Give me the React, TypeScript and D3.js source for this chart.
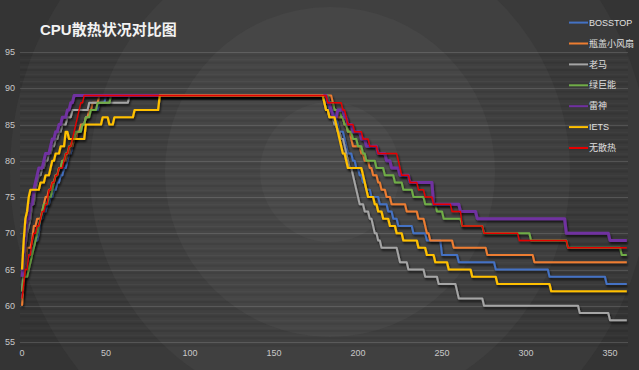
import React, { useEffect, useRef } from 'react';
import * as d3 from 'd3';

type Pt = [number, number];

// change points: [seconds, temperature] — value holds until the next point
const bosstop: Pt[] = [
  [0, 61], [1, 63], [2, 65], [3, 66], [4, 67], [6, 68], [8, 69], [10, 70], [11, 72], [13, 73], [15, 74], [17, 75],
  [19, 76], [21, 77], [23, 78], [25, 79], [27, 80], [28, 81], [30, 82], [31, 83], [33, 84], [36, 85], [38, 86],
  [40, 87], [46, 88], [50, 89],
  [181, 88], [183, 87], [186, 86], [188, 85], [189, 84], [192, 83], [193, 82], [194, 81], [197, 80], [199, 79],
  [201, 78], [203, 77], [205, 76], [208, 75], [213, 74], [218, 73], [221, 72], [224, 71], [233, 70], [241, 69],
  [250, 67], [260, 66], [282, 65], [314, 64], [348, 63],
];

const pinggai: Pt[] = [
  [0, 60], [1, 63], [2, 66], [3, 68], [6, 69], [7, 71], [9, 72], [12, 73], [13, 74], [14, 75], [16, 76], [18, 77],
  [20, 78], [22, 79], [24, 80], [27, 81], [29, 82], [31, 83], [33, 84], [35, 85], [38, 86], [40, 87], [42, 88],
  [46, 89],
  [185, 88], [186, 87], [188, 86], [192, 85], [194, 84], [196, 83], [197, 82], [202, 81], [204, 80], [207, 79],
  [209, 78], [212, 77], [214, 76], [217, 75], [220, 74], [229, 73], [236, 72], [240, 71], [241, 70], [243, 69],
  [257, 68], [277, 67], [305, 66],
];

const laoma: Pt[] = [
  [0, 62], [1, 65], [2, 68], [3, 70], [4, 71], [5, 72], [6, 74], [8, 76], [9, 77], [10, 78], [12, 79], [14, 80],
  [16, 81], [18, 82], [20, 83], [22, 84], [24, 85], [27, 86], [30, 87], [40, 88], [64, 89],
  [180, 88], [181, 87], [183, 86], [186, 85], [188, 84], [190, 83], [192, 82], [193, 81], [194, 80], [195, 79],
  [197, 78], [198, 77], [199, 76], [200, 75], [201, 74], [204, 73], [207, 72], [209, 71], [210, 70], [212, 69],
  [214, 68], [224, 67], [225, 66], [230, 65], [240, 64], [248, 63], [259, 62], [260, 61], [275, 60], [332, 59],
  [350, 58],
];

const lvjuneng: Pt[] = [
  [0, 62], [1, 64], [4, 65], [5, 66], [6, 67], [7, 68], [8, 69], [9, 70], [10, 71], [11, 72], [12, 73], [13, 74],
  [16, 75], [18, 76], [19, 77], [20, 78], [22, 79], [24, 80], [26, 81], [28, 82], [30, 83], [32, 84], [36, 85],
  [38, 86], [41, 87], [45, 88], [53, 89],
  [183, 88], [186, 87], [190, 86], [192, 85], [194, 84], [197, 83], [200, 82], [203, 81], [205, 80], [211, 79],
  [216, 78], [222, 77], [227, 76], [233, 75], [240, 74], [247, 73], [251, 72], [262, 71], [275, 70], [303, 69],
  [325, 68], [357, 67],
];

const leishen: Pt[] = [
  [0, 64], [1, 67], [2, 70], [3, 72], [5, 74], [7, 76], [8, 77], [9, 78], [10, 79], [13, 80], [14, 81], [17, 82],
  [18, 83], [20, 84], [22, 85], [24, 86], [27, 87], [29, 88], [31, 89],
  [182, 88], [184, 87], [185, 86], [188, 87], [192, 86], [194, 85], [197, 84], [202, 83], [205, 82], [212, 81],
  [217, 80], [220, 79], [225, 78], [231, 77], [245, 74], [261, 73], [271, 72], [324, 70], [350, 69],
];

const iets: Pt[] = [
  [0, 65], [1, 69], [2, 72], [3, 73], [4, 75], [5, 76], [11, 77], [14, 78], [17, 79], [18, 80], [20, 81], [23, 82],
  [26, 84], [28, 83], [38, 85], [48, 86], [52, 85], [55, 86], [67, 87], [82, 89],
  [180, 88], [181, 87], [183, 86], [187, 85], [188, 84], [189, 83], [190, 82], [191, 81], [193, 80], [194, 79],
  [203, 78], [204, 77], [205, 76], [206, 75], [210, 74], [212, 73], [215, 72], [219, 71], [223, 70], [227, 69],
  [236, 68], [241, 67], [246, 66], [254, 65], [268, 64], [283, 63], [315, 62],
];

const wusanre: Pt[] = [
  [0, 61], [1, 63], [2, 65], [4, 67], [6, 69], [7, 70], [9, 71], [11, 72], [12, 73], [14, 74], [16, 76], [18, 77],
  [20, 78], [22, 79], [25, 80], [26, 81], [28, 82], [30, 83], [31, 84], [32, 85], [33, 86], [34, 87], [35, 88],
  [37, 89],
  [182, 88], [191, 87], [193, 86], [194, 85], [198, 84], [203, 83], [207, 82], [212, 81], [224, 80], [225, 79],
  [226, 78], [231, 77], [236, 76], [240, 75], [245, 74], [256, 73], [262, 71], [275, 70], [296, 69], [325, 68],
];

const seriesNames = ['BOSSTOP', '瓶盖小风扇', '老马', '绿巨能', '雷神', 'IETS', '无散热'];
const seriesData = [bosstop, pinggai, laoma, lvjuneng, leishen, iets, wusanre];
const seriesColors = ['#4472c4', '#ed7d31', '#a5a5a5', '#70ad47', '#7030a0', '#ffc000', '#e60000'];
const seriesWidths = [2, 2, 2, 2, 3, 2.2, 1.3];

const xTicks = [0, 50, 100, 150, 200, 250, 300, 350];
const yTicks = [55, 60, 65, 70, 75, 80, 85, 90, 95];
const tEnd = 360;

const W = 639;
const H = 370;

// sampled once per second, so each change is drawn as a one-second slope
function toSamples(pts: Pt[]): Pt[] {
  const out: Pt[] = [];
  pts.forEach(([t, v], i) => {
    if (i > 0 && t - 1 > pts[i - 1][0]) out.push([t - 1, pts[i - 1][1]]);
    out.push([t, v]);
  });
  out.push([tEnd, pts[pts.length - 1][1]]);
  return out;
}

const App: React.FC = () => {
  const ref = useRef<SVGSVGElement | null>(null);

  useEffect(() => {
    const svg = d3.select(ref.current);
    svg.selectAll('*').remove();

    const x = d3.scaleLinear().domain([0, 350]).range([22, 610]);
    const y = d3.scaleLinear().domain([55, 95]).range([342, 52]);

    const defs = svg.append('defs');
    const f = defs.append('filter').attr('id', 'sh').attr('x', '-5%').attr('y', '-5%').attr('width', '110%').attr('height', '120%');
    f.append('feDropShadow').attr('dx', 1).attr('dy', 2).attr('stdDeviation', 0.8)
      .attr('flood-color', '#000').attr('flood-opacity', 0.7);

    // background with concentric rings
    svg.append('rect').attr('width', W).attr('height', H).attr('fill', '#2e2e2e');
    const rings = [
      { r: 420, c: '#343434' },
      { r: 320, c: '#3a3a3a' },
      { r: 240, c: '#404040' },
      { r: 165, c: '#464646' },
      { r: 70, c: '#4b4b4b' },
    ];
    svg.append('g').selectAll('circle').data(rings).enter().append('circle')
      .attr('cx', 330).attr('cy', 172).attr('r', (d) => d.r).attr('fill', (d) => d.c);

    // minor stripes
    const minor = d3.range(55, 96);
    svg.append('g').selectAll('line').data(minor).enter().append('line')
      .attr('x1', 20).attr('x2', 628)
      .attr('y1', (d) => y(d) + 3.5).attr('y2', (d) => y(d) + 3.5)
      .attr('stroke', '#000').attr('stroke-opacity', 0.07).attr('stroke-width', 2);
    svg.append('g').selectAll('line').data(minor).enter().append('line')
      .attr('x1', 20).attr('x2', 628)
      .attr('y1', (d) => y(d) + 0.5).attr('y2', (d) => y(d) + 0.5)
      .attr('stroke', '#fff').attr('stroke-opacity', 0.035);

    // major gridlines
    svg.append('g').selectAll('line').data(yTicks).enter().append('line')
      .attr('x1', 20).attr('x2', 628)
      .attr('y1', (d) => Math.round(y(d)) + 0.5).attr('y2', (d) => Math.round(y(d)) + 0.5)
      .attr('stroke', '#fff').attr('stroke-opacity', 0.11);

    const font = "'Liberation Sans', Arial, 'Noto Sans CJK SC', sans-serif";

    svg.append('g').selectAll('text').data(yTicks).enter().append('text')
      .attr('x', 10).attr('y', (d) => y(d)).attr('dy', '0.35em')
      .attr('text-anchor', 'middle').attr('font-size', 9).attr('font-family', font).attr('fill', '#c8c8c8')
      .text((d) => d);

    svg.append('g').selectAll('text').data(xTicks).enter().append('text')
      .attr('x', (d) => x(d)).attr('y', 356)
      .attr('text-anchor', 'middle').attr('font-size', 9).attr('font-family', font).attr('fill', '#c8c8c8')
      .text((d) => d);

    const line = d3.line<Pt>().x((d) => x(d[0])).y((d) => y(d[1]));

    svg.append('g').selectAll('path').data(seriesData).enter().append('path')
      .attr('d', (d) => line(toSamples(d)))
      .attr('fill', 'none')
      .attr('stroke', (_, i) => seriesColors[i])
      .attr('stroke-width', (_, i) => seriesWidths[i])
      .attr('stroke-linejoin', 'round')
      .attr('filter', 'url(#sh)');

    // legend
    const lg = svg.append('g').selectAll('g').data(seriesNames).enter().append('g')
      .attr('transform', (_, i) => `translate(569,${22.6 + i * 20.9})`);
    lg.append('line').attr('x1', 0).attr('x2', 19).attr('y1', 0).attr('y2', 0)
      .attr('stroke', (_, i) => seriesColors[i]).attr('stroke-width', 2);
    lg.append('text').attr('x', 20).attr('dy', '0.35em')
      .attr('font-size', 9).attr('font-family', font).attr('fill', '#e0e0e0')
      .text((d) => d);

    svg.append('text').attr('x', 40).attr('y', 35)
      .attr('font-size', 15).attr('font-weight', 'bold').attr('font-family', font).attr('fill', '#f2f2f2')
      .text('CPU散热状况对比图');
  }, []);

  return (
    <svg ref={ref} width={W} height={H} style={{ position: 'absolute', left: 0, top: 0, display: 'block' }} />
  );
};

export default App;
